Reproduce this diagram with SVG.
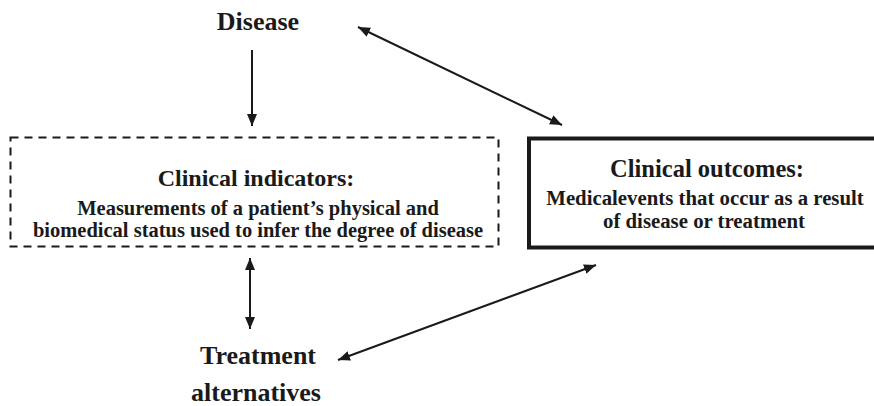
<svg xmlns="http://www.w3.org/2000/svg" width="874" height="406" viewBox="0 0 874 406">
  <style>
    text { font-family: "Liberation Serif", "Times New Roman", Times, serif; font-weight: bold; fill: #1a1a1a; text-anchor: middle; }
    .big { font-size: 26px; }
    .head { font-size: 24px; }
    .body { font-size: 20.5px; }
    .head2 { font-size: 24.5px; }
    .body2 { font-size: 20.8px; }
    .conn { stroke: #1a1a1a; stroke-width: 2; fill: none; }
  </style>
  <defs>
    <marker id="arrow" viewBox="0 0 12 10" refX="12" refY="5" markerWidth="12" markerHeight="10" markerUnits="userSpaceOnUse" orient="auto-start-reverse">
      <path d="M0,0 L12,5 L0,10 Z" fill="#1a1a1a"/>
    </marker>
  </defs>

  <rect width="874" height="406" fill="#ffffff"/>

  <g id="disease">
    <text class="big" x="258" y="30">Disease</text>
  </g>

  <g id="clinical-indicators">
    <rect x="10.5" y="137.5" width="488" height="109" fill="none" stroke="#1a1a1a" stroke-width="2" stroke-dasharray="8,6"/>
    <text class="head" x="256" y="186">Clinical indicators:</text>
    <text class="body" x="258" y="215">Measurements of a patient’s physical and</text>
    <text class="body" x="258" y="237">biomedical status used to infer the degree of disease</text>
  </g>

  <g id="clinical-outcomes">
    <rect x="529" y="138.5" width="360" height="109" fill="none" stroke="#1a1a1a" stroke-width="4"/>
    <text class="head2" x="707" y="177">Clinical outcomes:</text>
    <text class="body2" x="705" y="205">Medicalevents that occur as a result</text>
    <text class="body2" x="704" y="228">of disease or treatment</text>
  </g>

  <g id="treatment-alternatives">
    <text class="big" x="258" y="364">Treatment</text>
    <text class="big" x="256" y="401">alternatives</text>
  </g>

  <g id="connectors">
    <line class="conn" x1="252" y1="50" x2="252" y2="126" marker-end="url(#arrow)"/>
    <line class="conn" x1="358" y1="27" x2="562" y2="125" marker-start="url(#arrow)" marker-end="url(#arrow)"/>
    <line class="conn" x1="250" y1="258" x2="250" y2="329" marker-start="url(#arrow)" marker-end="url(#arrow)"/>
    <line class="conn" x1="338" y1="360" x2="596" y2="265" marker-start="url(#arrow)" marker-end="url(#arrow)"/>
  </g>
</svg>
